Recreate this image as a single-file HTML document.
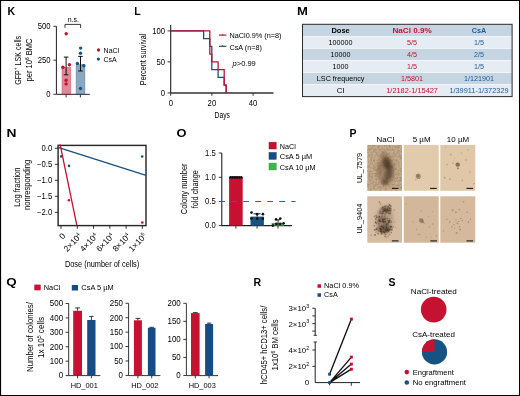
<!DOCTYPE html>
<html><head><meta charset="utf-8"><style>
html,body{margin:0;padding:0;background:#fff;}
svg{display:block;will-change:transform;font-family:"Liberation Sans", sans-serif;}
</style></head><body>
<svg width="520" height="396" viewBox="0 0 520 396">
<rect width="520" height="396" fill="#fff"/>
<text x="7.4" y="15.0" font-size="10.5" font-weight="bold" fill="#000">K</text>
<text x="134.3" y="14.9" font-size="10.5" font-weight="bold" fill="#000">L</text>
<text x="297.0" y="15.0" font-size="10.5" font-weight="bold" fill="#000" textLength="10.9" lengthAdjust="spacingAndGlyphs">M</text>
<text x="6.5" y="136.8" font-size="10.5" font-weight="bold" fill="#000" textLength="10.0" lengthAdjust="spacingAndGlyphs">N</text>
<text x="176.6" y="137.0" font-size="10.5" font-weight="bold" fill="#000" textLength="10.0" lengthAdjust="spacingAndGlyphs">O</text>
<text x="349.5" y="136.9" font-size="10.5" font-weight="bold" fill="#000">P</text>
<text x="6.2" y="285.9" font-size="10.5" font-weight="bold" fill="#000" textLength="10.4" lengthAdjust="spacingAndGlyphs">Q</text>
<text x="253.4" y="285.8" font-size="10.5" font-weight="bold" fill="#000">R</text>
<text x="388.4" y="285.8" font-size="10.5" font-weight="bold" fill="#000">S</text>
<path d="M56.4,26.3 V94.3 H89.8" stroke="#231f20" stroke-width="1.0" fill="none" />
<path d="M53.4,26.3 H56.4" stroke="#231f20" stroke-width="0.9" fill="none" />
<path d="M53.4,60.2 H56.4" stroke="#231f20" stroke-width="0.9" fill="none" />
<path d="M53.4,94.3 H56.4" stroke="#231f20" stroke-width="0.9" fill="none" />
<path d="M66.1,94.3 V97.4 M80.4,94.3 V97.4" stroke="#231f20" stroke-width="0.9" fill="none" />
<text x="50.6" y="29.1" font-size="8.3" text-anchor="end" transform="matrix(0.93 0 0 1 3.542 0)">500</text>
<text x="50.6" y="63.0" font-size="8.3" text-anchor="end" transform="matrix(0.93 0 0 1 3.542 0)">250</text>
<text x="50.6" y="96.9" font-size="8.3" text-anchor="end" transform="matrix(0.93 0 0 1 3.542 0)">0</text>
<rect x="61.9" y="67.2" width="9.0" height="27.1" fill="rgba(196,18,48,0.5)" stroke="rgba(196,18,48,0.35)" stroke-width="0.6"/>
<rect x="76.0" y="64.3" width="9.0" height="30.0" fill="rgba(22,82,130,0.5)" stroke="rgba(22,82,130,0.35)" stroke-width="0.6"/>
<path d="M66.1,57.1 V74.8 M63.8,57.1 H68.4 M63.8,74.8 H68.4" stroke="#111" stroke-width="1.0" fill="none" />
<path d="M80.5,56.4 V71.0 M78.2,56.4 H82.8 M78.2,71.0 H82.8" stroke="#111" stroke-width="1.0" fill="none" />
<circle cx="66.2" cy="33.7" r="1.7" fill="#c41230"/>
<circle cx="62.9" cy="67.3" r="1.7" fill="#c41230"/>
<circle cx="69.4" cy="64.7" r="1.7" fill="#c41230"/>
<circle cx="66.1" cy="80.2" r="1.7" fill="#c41230"/>
<circle cx="66.1" cy="83.9" r="1.7" fill="#c41230"/>
<circle cx="80.6" cy="48.1" r="1.7" fill="#165282"/>
<circle cx="80.5" cy="53.3" r="1.7" fill="#165282"/>
<circle cx="77.4" cy="63.5" r="1.7" fill="#165282"/>
<circle cx="83.8" cy="65.8" r="1.7" fill="#165282"/>
<circle cx="80.5" cy="88.5" r="1.7" fill="#165282"/>
<path d="M65,27.9 V24.4 H80.6 V27.9" stroke="#231f20" stroke-width="0.9" fill="none" />
<text x="73.3" y="21.8" font-size="7" text-anchor="middle">n.s.</text>
<circle cx="98.5" cy="50.0" r="1.65" fill="#c41230"/>
<circle cx="98.4" cy="59.1" r="1.65" fill="#165282"/>
<text x="103.6" y="52.6" font-size="7">NaCl</text>
<text x="103.4" y="61.6" font-size="7">CsA</text>
<text x="20.6" y="60.3" font-size="9.1" text-anchor="middle" textLength="48.8" lengthAdjust="spacingAndGlyphs" transform="rotate(-90 20.6 60.3)">GFP<tspan font-size="6.2" dy="-3.2">+</tspan><tspan dy="3.2"> LSK cells</tspan></text>
<text x="31.6" y="60.0" font-size="8.6" text-anchor="middle" textLength="43" lengthAdjust="spacingAndGlyphs" transform="rotate(-90 31.6 60.0)">per 10<tspan font-size="5.5" dy="-3">6</tspan><tspan dy="3"> BMC</tspan></text>
<path d="M170.7,25 V92.9" stroke="#231f20" stroke-width="1.1" fill="none" />
<path d="M170.7,92.9 H273.5" stroke="#333" stroke-width="1.5" fill="none" />
<path d="M167.6,30.9 H170.7" stroke="#231f20" stroke-width="0.9" fill="none" />
<path d="M167.6,61.9 H170.7" stroke="#231f20" stroke-width="0.9" fill="none" />
<path d="M167.6,92.9 H170.7" stroke="#231f20" stroke-width="0.9" fill="none" />
<path d="M170.7,92.9 V95.8" stroke="#231f20" stroke-width="0.9" fill="none" />
<path d="M211.9,92.9 V95.8" stroke="#231f20" stroke-width="0.9" fill="none" />
<path d="M253.1,92.9 V95.8" stroke="#231f20" stroke-width="0.9" fill="none" />
<text x="165.0" y="33.7" font-size="8.3" text-anchor="end" transform="matrix(0.93 0 0 1 11.550 0)">100</text>
<text x="165.0" y="64.9" font-size="8.3" text-anchor="end" transform="matrix(0.93 0 0 1 11.550 0)">50</text>
<text x="165.0" y="96.1" font-size="8.3" text-anchor="end" transform="matrix(0.93 0 0 1 11.550 0)">0</text>
<text x="170.8" y="105.6" font-size="8.3" text-anchor="middle" transform="matrix(0.93 0 0 1 11.956 0)">0</text>
<text x="211.9" y="105.6" font-size="8.3" text-anchor="middle" transform="matrix(0.93 0 0 1 14.833 0)">20</text>
<text x="253.1" y="105.6" font-size="8.3" text-anchor="middle" transform="matrix(0.93 0 0 1 17.717 0)">40</text>
<text x="222.3" y="118.0" font-size="9.3" text-anchor="middle" textLength="15.4" lengthAdjust="spacingAndGlyphs">Days</text>
<text x="145.9" y="59.4" font-size="9.0" text-anchor="middle" textLength="51.5" lengthAdjust="spacingAndGlyphs" transform="rotate(-90 145.9 59.4)">Percent survival</text>
<path d="M170.7,30.9 H203.6 V38.65 H209.8 V46.4 H211.8 V69.65 H218.1 V77.4 H224.2 V85.15 H226.2 V92.9" stroke="#165282" stroke-width="1.3" fill="none" stroke-linejoin="miter"/>
<path d="M170.7,30.9 H209.8 V54.15 H211.8 V61.9 H218.1 V69.65 H224.2 V85.15 H226.2 V92.9" stroke="#c41230" stroke-width="1.3" fill="none" stroke-linejoin="miter"/>
<path d="M219,35.1 H226.4" stroke="#c41230" stroke-width="1.2" fill="none" />
<path d="M219,46.3 H226.4" stroke="#165282" stroke-width="1.2" fill="none" />
<path d="M222.7,33.9 V35.1 M222.7,45.1 V46.3" stroke="#333" stroke-width="0.8" fill="none" />
<text x="229.5" y="38.1" font-size="7.4" textLength="52" lengthAdjust="spacingAndGlyphs">NaCl0.9% (n=8)</text>
<text x="229.5" y="49.9" font-size="7.4" textLength="32.4" lengthAdjust="spacingAndGlyphs">CsA (n=8)</text>
<text x="232.6" y="66.0" font-size="7.4" textLength="23.2" lengthAdjust="spacingAndGlyphs"><tspan font-style="italic">p</tspan>&gt;0.99</text>
<rect x="302.5" y="24.3" width="209.6" height="12.3" fill="#c6d5e2" />
<rect x="302.5" y="36.6" width="209.6" height="11.799999999999997" fill="#e5ecf3" />
<rect x="302.5" y="48.4" width="209.6" height="12.0" fill="#c6d5e2" />
<rect x="302.5" y="60.4" width="209.6" height="12.100000000000001" fill="#e5ecf3" />
<rect x="302.5" y="72.5" width="209.6" height="12.099999999999994" fill="#c6d5e2" />
<rect x="302.5" y="84.6" width="209.6" height="12.0" fill="#e5ecf3" />
<path d="M302.5,36.6 H512.1" stroke="#f6f8fa" stroke-width="0.8" fill="none" />
<path d="M302.5,48.4 H512.1" stroke="#f6f8fa" stroke-width="0.8" fill="none" />
<path d="M302.5,60.4 H512.1" stroke="#f6f8fa" stroke-width="0.8" fill="none" />
<path d="M302.5,72.5 H512.1" stroke="#f6f8fa" stroke-width="0.8" fill="none" />
<path d="M302.5,84.6 H512.1" stroke="#f6f8fa" stroke-width="0.8" fill="none" />
<rect x="302.5" y="24.3" width="209.6" height="72.3" fill="none" stroke="#2b2b2b" stroke-width="1"/>
<text x="340.6" y="33.0" font-size="7.8" text-anchor="middle" font-weight="bold" textLength="18.3" lengthAdjust="spacingAndGlyphs">Dose</text>
<text x="412.1" y="33.0" font-size="7.8" text-anchor="middle" font-weight="bold" fill="#c41230" textLength="39.3" lengthAdjust="spacingAndGlyphs">NaCl 0.9%</text>
<text x="479.0" y="33.0" font-size="7.8" text-anchor="middle" font-weight="bold" fill="#1d5a96" textLength="14.5" lengthAdjust="spacingAndGlyphs">CsA</text>
<text x="340.6" y="44.7" font-size="7.9" text-anchor="middle" transform="matrix(0.91 0 0 1 30.654 0)">100000</text>
<text x="412.1" y="44.7" font-size="7.9" text-anchor="middle" fill="#c41230" transform="matrix(0.91 0 0 1 37.089 0)">5/5</text>
<text x="479.0" y="44.7" font-size="7.9" text-anchor="middle" fill="#1d5a96" transform="matrix(0.91 0 0 1 43.110 0)">1/5</text>
<text x="340.6" y="56.75" font-size="7.9" text-anchor="middle" transform="matrix(0.91 0 0 1 30.654 0)">10000</text>
<text x="412.1" y="56.75" font-size="7.9" text-anchor="middle" fill="#c41230" transform="matrix(0.91 0 0 1 37.089 0)">4/5</text>
<text x="479.0" y="56.75" font-size="7.9" text-anchor="middle" fill="#1d5a96" transform="matrix(0.91 0 0 1 43.110 0)">2/5</text>
<text x="340.6" y="68.8" font-size="7.9" text-anchor="middle" transform="matrix(0.91 0 0 1 30.654 0)">1000</text>
<text x="412.1" y="68.8" font-size="7.9" text-anchor="middle" fill="#c41230" transform="matrix(0.91 0 0 1 37.089 0)">1/5</text>
<text x="479.0" y="68.8" font-size="7.9" text-anchor="middle" fill="#1d5a96" transform="matrix(0.91 0 0 1 43.110 0)">1/5</text>
<text x="340.6" y="80.85" font-size="7.9" text-anchor="middle" transform="matrix(0.91 0 0 1 30.654 0)">LSC frequency</text>
<text x="412.1" y="80.85" font-size="7.9" text-anchor="middle" fill="#c41230" transform="matrix(0.91 0 0 1 37.089 0)">1/5801</text>
<text x="479.0" y="80.85" font-size="7.9" text-anchor="middle" fill="#1d5a96" transform="matrix(0.91 0 0 1 43.110 0)">1/121901</text>
<text x="340.6" y="92.9" font-size="7.9" text-anchor="middle">CI</text>
<text x="412.1" y="92.9" font-size="7.9" text-anchor="middle" fill="#c41230" textLength="51.7" lengthAdjust="spacingAndGlyphs">1/2182-1/15427</text>
<text x="479.0" y="92.9" font-size="7.9" text-anchor="middle" fill="#1d5a96" textLength="59.2" lengthAdjust="spacingAndGlyphs">1/39911-1/372329</text>
<rect x="58.1" y="145.4" width="87.9" height="80.2" fill="none" stroke="#2a2a2a" stroke-width="1.45"/>
<path d="M54.8,148.3 H58.1" stroke="#231f20" stroke-width="0.9" fill="none" />
<path d="M54.8,164.3 H58.1" stroke="#231f20" stroke-width="0.9" fill="none" />
<path d="M54.8,180.3 H58.1" stroke="#231f20" stroke-width="0.9" fill="none" />
<path d="M54.8,196.3 H58.1" stroke="#231f20" stroke-width="0.9" fill="none" />
<path d="M54.8,212.4 H58.1" stroke="#231f20" stroke-width="0.9" fill="none" />
<text x="52.3" y="151.2" font-size="8.3" text-anchor="end" transform="matrix(0.93 0 0 1 3.661 0)">0.0</text>
<text x="52.3" y="167.2" font-size="8.3" text-anchor="end" transform="matrix(0.93 0 0 1 3.661 0)">−0.5</text>
<text x="52.3" y="183.2" font-size="8.3" text-anchor="end" transform="matrix(0.93 0 0 1 3.661 0)">−1.0</text>
<text x="52.3" y="199.2" font-size="8.3" text-anchor="end" transform="matrix(0.93 0 0 1 3.661 0)">−1.5</text>
<text x="52.3" y="215.3" font-size="8.3" text-anchor="end" transform="matrix(0.93 0 0 1 3.661 0)">−2.0</text>
<path d="M61.0,225.7 V228.8" stroke="#231f20" stroke-width="0.9" fill="none" />
<path d="M77.3,225.7 V228.8" stroke="#231f20" stroke-width="0.9" fill="none" />
<path d="M93.5,225.7 V228.8" stroke="#231f20" stroke-width="0.9" fill="none" />
<path d="M109.8,225.7 V228.8" stroke="#231f20" stroke-width="0.9" fill="none" />
<path d="M126.1,225.7 V228.8" stroke="#231f20" stroke-width="0.9" fill="none" />
<path d="M142.3,225.7 V228.8" stroke="#231f20" stroke-width="0.9" fill="none" />
<text x="65.9" y="236.4" font-size="8.4" text-anchor="end" transform="rotate(-47 65.9 236.4)">0</text>
<text x="82.2" y="236.4" font-size="8.4" text-anchor="end" transform="rotate(-47 82.2 236.4)">2×10<tspan font-size="5.2" dy="-3">4</tspan></text>
<text x="98.4" y="236.4" font-size="8.4" text-anchor="end" transform="rotate(-47 98.4 236.4)">4×10<tspan font-size="5.2" dy="-3">4</tspan></text>
<text x="114.7" y="236.4" font-size="8.4" text-anchor="end" transform="rotate(-47 114.7 236.4)">6×10<tspan font-size="5.2" dy="-3">4</tspan></text>
<text x="131.0" y="236.4" font-size="8.4" text-anchor="end" transform="rotate(-47 131.0 236.4)">8×10<tspan font-size="5.2" dy="-3">4</tspan></text>
<text x="147.2" y="236.4" font-size="8.4" text-anchor="end" transform="rotate(-47 147.2 236.4)">1×10<tspan font-size="5.2" dy="-3">5</tspan></text>
<text x="64.9" y="266.8" font-size="9.1" textLength="74.3" lengthAdjust="spacingAndGlyphs">Dose (number of cells)</text>
<text x="19.8" y="187.2" font-size="9.2" text-anchor="middle" textLength="39.3" lengthAdjust="spacingAndGlyphs" transform="rotate(-90 19.8 187.2)">Log fraction</text>
<text x="30.0" y="184.9" font-size="9.2" text-anchor="middle" textLength="50.3" lengthAdjust="spacingAndGlyphs" transform="rotate(-90 30.0 184.9)">nonresponding</text>
<circle cx="61.3" cy="156.4" r="1.3" fill="#165282"/>
<circle cx="69.0" cy="165.9" r="1.3" fill="#165282"/>
<circle cx="142.2" cy="156.5" r="1.3" fill="#165282"/>
<circle cx="68.9" cy="200.2" r="1.3" fill="#c41230"/>
<circle cx="142.3" cy="222.5" r="1.3" fill="#c41230"/>
<path d="M57.3,147.1 L146,175.4" stroke="#165282" stroke-width="1.3" fill="none" />
<path d="M60.1,144.3 L76.8,225.2" stroke="#c41230" stroke-width="1.3" fill="none" />
<path d="M221.8,153 V225.6 H291.9" stroke="#231f20" stroke-width="1.1" fill="none" />
<path d="M218.8,153.0 H221.8" stroke="#231f20" stroke-width="0.9" fill="none" />
<path d="M218.8,177.3 H221.8" stroke="#231f20" stroke-width="0.9" fill="none" />
<path d="M218.8,201.5 H221.8" stroke="#231f20" stroke-width="0.9" fill="none" />
<path d="M218.8,225.6 H221.8" stroke="#231f20" stroke-width="0.9" fill="none" />
<text x="215.7" y="155.9" font-size="8.3" text-anchor="end" transform="matrix(0.93 0 0 1 15.099 0)">1.5</text>
<text x="215.7" y="180.2" font-size="8.3" text-anchor="end" transform="matrix(0.93 0 0 1 15.099 0)">1.0</text>
<text x="215.7" y="204.4" font-size="8.3" text-anchor="end" transform="matrix(0.93 0 0 1 15.099 0)">0.5</text>
<text x="215.7" y="228.3" font-size="8.3" text-anchor="end" transform="matrix(0.93 0 0 1 15.099 0)">0.0</text>
<path d="M235.9,225.6 V228.6" stroke="#231f20" stroke-width="0.9" fill="none" />
<path d="M257.1,225.6 V228.6" stroke="#231f20" stroke-width="0.9" fill="none" />
<path d="M278.0,225.6 V228.6" stroke="#231f20" stroke-width="0.9" fill="none" />
<rect x="229.1" y="177.4" width="13.6" height="48.2" fill="#c41230" />
<rect x="250.5" y="216.6" width="13.4" height="9.0" fill="#165282" />
<rect x="271.6" y="223.0" width="12.6" height="2.6" fill="#3db54a" />
<path d="M219.3,201.5 H295.5" stroke="#2a66a6" stroke-width="1.2" fill="none" stroke-dasharray="5.8 6.2"/>
<circle cx="230.4" cy="177.4" r="1.3" fill="#111"/>
<circle cx="232.23" cy="177.4" r="1.3" fill="#111"/>
<circle cx="234.06" cy="177.4" r="1.3" fill="#111"/>
<circle cx="235.89" cy="177.4" r="1.3" fill="#111"/>
<circle cx="237.72" cy="177.4" r="1.3" fill="#111"/>
<circle cx="239.55" cy="177.4" r="1.3" fill="#111"/>
<circle cx="241.38" cy="177.4" r="1.3" fill="#111"/>
<path d="M257.1,213.8 V216.6 M253.5,213.8 H260.7" stroke="#111" stroke-width="0.9" fill="none" />
<circle cx="251.5" cy="212.6" r="1.35" fill="#111"/>
<circle cx="257.1" cy="214.2" r="1.35" fill="#111"/>
<circle cx="262.9" cy="214.2" r="1.35" fill="#111"/>
<circle cx="251.5" cy="218.5" r="1.35" fill="#111"/>
<circle cx="257.1" cy="218.7" r="1.35" fill="#111"/>
<circle cx="262.8" cy="218.7" r="1.35" fill="#111"/>
<path d="M278.1,219.8 V225 M276.2,219.8 H280" stroke="#111" stroke-width="0.9" fill="none" />
<circle cx="276.0" cy="219.4" r="1.3" fill="#111"/>
<circle cx="280.3" cy="218.6" r="1.3" fill="#111"/>
<circle cx="272.9" cy="225.6" r="1.3" fill="#111"/>
<circle cx="276.3" cy="223.9" r="1.3" fill="#111"/>
<circle cx="280.3" cy="223.9" r="1.3" fill="#111"/>
<circle cx="283.6" cy="223.3" r="1.3" fill="#111"/>
<rect x="269.0" y="142.2" width="7.2" height="6.8" fill="#c41230" stroke="#a80e28" stroke-width="0.5"/>
<rect x="269.0" y="152.5" width="7.2" height="6.8" fill="#174b86" stroke="#0f3a6a" stroke-width="0.5"/>
<rect x="269.0" y="163.1" width="7.2" height="6.8" fill="#3db54a" stroke="#2a9a3a" stroke-width="0.5"/>
<text x="279.8" y="148.6" font-size="7.2" textLength="16.0" lengthAdjust="spacingAndGlyphs">NaCl</text>
<text x="279.8" y="159.1" font-size="7.2" textLength="32.3" lengthAdjust="spacingAndGlyphs">CsA 5 µM</text>
<text x="279.8" y="169.7" font-size="7.2" textLength="35.8" lengthAdjust="spacingAndGlyphs">CsA 10 µM</text>
<text x="187.3" y="188.8" font-size="9.2" text-anchor="middle" textLength="50.8" lengthAdjust="spacingAndGlyphs" transform="rotate(-90 187.3 188.8)">Colony number</text>
<text x="197.9" y="189.2" font-size="9.2" text-anchor="middle" textLength="38.3" lengthAdjust="spacingAndGlyphs" transform="rotate(-90 197.9 189.2)">fold change</text>
<text x="385.4" y="141.5" font-size="7.5" text-anchor="middle" textLength="17.6" lengthAdjust="spacingAndGlyphs">NaCl</text>
<text x="421.6" y="141.5" font-size="7.5" text-anchor="middle" textLength="17.9" lengthAdjust="spacingAndGlyphs">5 µM</text>
<text x="458.0" y="141.5" font-size="7.5" text-anchor="middle" textLength="22.3" lengthAdjust="spacingAndGlyphs">10 µM</text>
<text x="362.3" y="167.9" font-size="6.8" text-anchor="middle" textLength="30.2" lengthAdjust="spacingAndGlyphs" transform="rotate(-90 362.3 167.9)">UL_7579</text>
<text x="362.3" y="218.6" font-size="6.8" text-anchor="middle" textLength="30.0" lengthAdjust="spacingAndGlyphs" transform="rotate(-90 362.3 218.6)">UL_9404</text>
<defs><filter id="bA" x="-50%" y="-50%" width="200%" height="200%"><feGaussianBlur stdDeviation="1.8"/></filter><filter id="bB" x="-50%" y="-50%" width="200%" height="200%"><feGaussianBlur stdDeviation="0.9"/></filter><filter id="bC" x="-50%" y="-50%" width="200%" height="200%"><feGaussianBlur stdDeviation="0.45"/></filter><filter id="bD" x="-20%" y="-20%" width="140%" height="140%"><feGaussianBlur stdDeviation="0.6"/></filter><filter id="tex" x="0" y="0" width="100%" height="100%"><feTurbulence type="fractalNoise" baseFrequency="0.45" numOctaves="3" seed="5" result="t"/><feColorMatrix in="t" type="matrix" values="0 0 0 0 0.32  0 0 0 0 0.26  0 0 0 0 0.19  4.0 0 0 0 -1.75"/></filter><filter id="tex2" x="0" y="0" width="100%" height="100%"><feTurbulence type="fractalNoise" baseFrequency="0.45" numOctaves="2" seed="11" result="t"/><feColorMatrix in="t" type="matrix" values="0 0 0 0 1  0 0 0 0 0.93  0 0 0 0 0.82  0 -2.2 0 0 1.0"/></filter><clipPath id="cp1"><rect x="367.3" y="144.9" width="34.7" height="45.9"/></clipPath><clipPath id="cp2"><rect x="367.3" y="196.3" width="34.7" height="46.4"/></clipPath></defs>
<rect x="367.3" y="144.9" width="34.7" height="45.9" fill="#c5a783" />
<rect x="403.8" y="144.9" width="34.9" height="45.9" fill="#e1cbac" />
<rect x="440.3" y="144.9" width="35.0" height="45.9" fill="#dfc7a7" />
<rect x="367.3" y="196.3" width="34.7" height="46.4" fill="#d4bba2" />
<rect x="403.8" y="196.3" width="34.9" height="46.4" fill="#d2b79b" />
<rect x="440.3" y="196.3" width="35.0" height="46.4" fill="#d4b99c" />
<g clip-path="url(#cp1)"><rect x="367.3" y="144.9" width="34.7" height="45.9" filter="url(#tex2)" opacity="0.3"/></g>
<g clip-path="url(#cp1)"><rect x="367.3" y="144.9" width="34.7" height="45.9" filter="url(#tex)" opacity="0.7"/></g>
<g clip-path="url(#cp1)"><g filter="url(#bA)"><ellipse cx="386" cy="170" rx="9" ry="15" fill="#7a5e45" opacity="0.45"/><ellipse cx="386.5" cy="163" rx="4" ry="6" fill="#3e2c1b" opacity="0.7"/><ellipse cx="389.5" cy="168" rx="3.5" ry="5" fill="#3e2c1b" opacity="0.55"/><ellipse cx="388.5" cy="175" rx="4.2" ry="4.5" fill="#4a3726" opacity="0.6"/><ellipse cx="385" cy="182" rx="3.5" ry="3.5" fill="#4a3726" opacity="0.6"/><ellipse cx="379" cy="170" rx="3" ry="7" fill="#8a6e52" opacity="0.35"/><ellipse cx="384" cy="156" rx="3" ry="5" fill="#6e553e" opacity="0.4"/></g></g>
<g clip-path="url(#cp2)">
<g filter="url(#bA)"><ellipse cx="384.5" cy="220" rx="9" ry="14" fill="#8c7057" opacity="0.4"/><ellipse cx="386" cy="209.5" rx="4.5" ry="3.5" fill="#5a4535" opacity="0.5"/><ellipse cx="383" cy="219.5" rx="4.5" ry="3.5" fill="#5a4535" opacity="0.45"/><ellipse cx="384" cy="228.5" rx="7" ry="4.5" fill="#4e3a2b" opacity="0.6"/></g>
<g filter="url(#bD)">
<circle cx="385.1" cy="210.4" r="0.81" fill="#3e2e20" opacity="0.28"/>
<circle cx="382.8" cy="208.4" r="0.48" fill="#3e2e20" opacity="0.43"/>
<circle cx="389.5" cy="209.7" r="0.49" fill="#3e2e20" opacity="0.28"/>
<circle cx="380.3" cy="211.4" r="0.52" fill="#3e2e20" opacity="0.33"/>
<circle cx="380.2" cy="204.1" r="0.77" fill="#3e2e20" opacity="0.39"/>
<circle cx="387.0" cy="208.9" r="0.92" fill="#3e2e20" opacity="0.35"/>
<circle cx="387.0" cy="210.1" r="0.62" fill="#3e2e20" opacity="0.54"/>
<circle cx="387.9" cy="212.4" r="0.80" fill="#3e2e20" opacity="0.38"/>
<circle cx="384.8" cy="208.7" r="0.48" fill="#3e2e20" opacity="0.32"/>
<circle cx="384.5" cy="206.3" r="0.62" fill="#3e2e20" opacity="0.45"/>
<circle cx="383.3" cy="209.7" r="0.89" fill="#3e2e20" opacity="0.49"/>
<circle cx="386.2" cy="212.7" r="0.74" fill="#3e2e20" opacity="0.56"/>
<circle cx="385.6" cy="206.7" r="0.99" fill="#3e2e20" opacity="0.29"/>
<circle cx="381.0" cy="211.3" r="0.53" fill="#3e2e20" opacity="0.42"/>
<circle cx="390.9" cy="210.0" r="0.87" fill="#3e2e20" opacity="0.45"/>
<circle cx="388.1" cy="207.3" r="0.83" fill="#3e2e20" opacity="0.46"/>
<circle cx="382.7" cy="207.5" r="0.91" fill="#3e2e20" opacity="0.58"/>
<circle cx="381.0" cy="209.7" r="0.48" fill="#3e2e20" opacity="0.50"/>
<circle cx="379.5" cy="201.9" r="0.90" fill="#3e2e20" opacity="0.35"/>
<circle cx="382.2" cy="211.7" r="0.46" fill="#3e2e20" opacity="0.41"/>
<circle cx="386.8" cy="210.2" r="0.48" fill="#3e2e20" opacity="0.52"/>
<circle cx="387.8" cy="210.5" r="0.67" fill="#3e2e20" opacity="0.55"/>
<circle cx="389.2" cy="210.5" r="0.75" fill="#3e2e20" opacity="0.56"/>
<circle cx="388.9" cy="203.9" r="0.60" fill="#3e2e20" opacity="0.40"/>
<circle cx="381.5" cy="213.5" r="0.98" fill="#3e2e20" opacity="0.30"/>
<circle cx="387.1" cy="210.8" r="0.58" fill="#3e2e20" opacity="0.42"/>
<circle cx="383.8" cy="207.8" r="0.45" fill="#3e2e20" opacity="0.40"/>
<circle cx="383.0" cy="211.7" r="0.97" fill="#3e2e20" opacity="0.49"/>
<circle cx="381.3" cy="208.6" r="0.82" fill="#3e2e20" opacity="0.27"/>
<circle cx="390.8" cy="206.1" r="0.93" fill="#3e2e20" opacity="0.53"/>
<circle cx="383.3" cy="210.8" r="0.51" fill="#3e2e20" opacity="0.47"/>
<circle cx="387.2" cy="209.4" r="0.56" fill="#3e2e20" opacity="0.31"/>
<circle cx="385.4" cy="209.8" r="0.45" fill="#3e2e20" opacity="0.30"/>
<circle cx="388.6" cy="210.6" r="0.46" fill="#3e2e20" opacity="0.56"/>
<circle cx="384.5" cy="208.0" r="0.59" fill="#3e2e20" opacity="0.37"/>
<circle cx="384.9" cy="210.1" r="0.92" fill="#3e2e20" opacity="0.60"/>
<circle cx="382.2" cy="209.7" r="0.50" fill="#3e2e20" opacity="0.29"/>
<circle cx="384.5" cy="210.8" r="0.91" fill="#3e2e20" opacity="0.31"/>
<circle cx="394.3" cy="210.0" r="0.74" fill="#3e2e20" opacity="0.30"/>
<circle cx="385.2" cy="208.8" r="0.74" fill="#3e2e20" opacity="0.59"/>
<circle cx="389.4" cy="205.7" r="0.59" fill="#3e2e20" opacity="0.38"/>
<circle cx="388.9" cy="213.2" r="0.74" fill="#3e2e20" opacity="0.52"/>
<circle cx="384.8" cy="210.7" r="0.90" fill="#3e2e20" opacity="0.59"/>
<circle cx="389.7" cy="204.9" r="0.90" fill="#3e2e20" opacity="0.51"/>
<circle cx="386.6" cy="212.3" r="0.65" fill="#3e2e20" opacity="0.26"/>
<circle cx="388.7" cy="209.4" r="0.59" fill="#3e2e20" opacity="0.49"/>
<circle cx="389.6" cy="208.2" r="0.97" fill="#3e2e20" opacity="0.60"/>
<circle cx="389.1" cy="208.3" r="0.57" fill="#3e2e20" opacity="0.33"/>
<circle cx="386.8" cy="210.8" r="0.79" fill="#3e2e20" opacity="0.57"/>
<circle cx="388.1" cy="206.3" r="0.81" fill="#3e2e20" opacity="0.53"/>
<circle cx="390.3" cy="211.1" r="0.95" fill="#3e2e20" opacity="0.52"/>
<circle cx="386.0" cy="205.8" r="0.55" fill="#3e2e20" opacity="0.53"/>
<circle cx="383.0" cy="213.4" r="0.98" fill="#3e2e20" opacity="0.39"/>
<circle cx="379.3" cy="212.9" r="0.85" fill="#3e2e20" opacity="0.31"/>
<circle cx="387.4" cy="210.1" r="0.95" fill="#3e2e20" opacity="0.53"/>
<circle cx="389.9" cy="213.2" r="0.99" fill="#3e2e20" opacity="0.48"/>
<circle cx="383.5" cy="211.9" r="0.52" fill="#3e2e20" opacity="0.25"/>
<circle cx="390.8" cy="208.3" r="0.74" fill="#3e2e20" opacity="0.58"/>
<circle cx="379.7" cy="211.3" r="0.90" fill="#3e2e20" opacity="0.32"/>
<circle cx="386.0" cy="211.3" r="0.58" fill="#3e2e20" opacity="0.46"/>
<circle cx="382.8" cy="222.1" r="0.52" fill="#3e2e20" opacity="0.57"/>
<circle cx="380.4" cy="221.6" r="0.77" fill="#3e2e20" opacity="0.57"/>
<circle cx="375.5" cy="222.2" r="0.73" fill="#3e2e20" opacity="0.44"/>
<circle cx="382.3" cy="218.9" r="0.69" fill="#3e2e20" opacity="0.31"/>
<circle cx="389.8" cy="219.1" r="0.54" fill="#3e2e20" opacity="0.42"/>
<circle cx="382.2" cy="215.2" r="0.63" fill="#3e2e20" opacity="0.43"/>
<circle cx="376.7" cy="217.2" r="0.51" fill="#3e2e20" opacity="0.45"/>
<circle cx="383.0" cy="221.4" r="0.87" fill="#3e2e20" opacity="0.43"/>
<circle cx="377.1" cy="217.1" r="0.95" fill="#3e2e20" opacity="0.41"/>
<circle cx="379.6" cy="216.7" r="0.73" fill="#3e2e20" opacity="0.49"/>
<circle cx="378.5" cy="220.1" r="0.71" fill="#3e2e20" opacity="0.58"/>
<circle cx="380.6" cy="213.2" r="0.97" fill="#3e2e20" opacity="0.34"/>
<circle cx="374.5" cy="216.4" r="0.91" fill="#3e2e20" opacity="0.30"/>
<circle cx="386.0" cy="221.2" r="0.49" fill="#3e2e20" opacity="0.33"/>
<circle cx="388.1" cy="221.0" r="0.88" fill="#3e2e20" opacity="0.56"/>
<circle cx="386.4" cy="222.9" r="0.81" fill="#3e2e20" opacity="0.30"/>
<circle cx="390.4" cy="213.7" r="0.57" fill="#3e2e20" opacity="0.58"/>
<circle cx="379.5" cy="221.1" r="0.99" fill="#3e2e20" opacity="0.54"/>
<circle cx="385.1" cy="221.7" r="0.73" fill="#3e2e20" opacity="0.37"/>
<circle cx="384.1" cy="221.5" r="0.85" fill="#3e2e20" opacity="0.26"/>
<circle cx="379.1" cy="217.9" r="0.46" fill="#3e2e20" opacity="0.37"/>
<circle cx="379.8" cy="216.5" r="0.49" fill="#3e2e20" opacity="0.59"/>
<circle cx="385.4" cy="211.2" r="0.51" fill="#3e2e20" opacity="0.34"/>
<circle cx="389.4" cy="220.3" r="0.60" fill="#3e2e20" opacity="0.30"/>
<circle cx="375.6" cy="222.1" r="0.90" fill="#3e2e20" opacity="0.34"/>
<circle cx="388.0" cy="224.4" r="0.76" fill="#3e2e20" opacity="0.50"/>
<circle cx="384.1" cy="219.6" r="0.83" fill="#3e2e20" opacity="0.40"/>
<circle cx="391.1" cy="222.1" r="0.80" fill="#3e2e20" opacity="0.53"/>
<circle cx="389.5" cy="222.0" r="0.49" fill="#3e2e20" opacity="0.55"/>
<circle cx="379.7" cy="219.8" r="0.75" fill="#3e2e20" opacity="0.57"/>
<circle cx="382.8" cy="220.6" r="0.74" fill="#3e2e20" opacity="0.33"/>
<circle cx="384.7" cy="220.1" r="0.48" fill="#3e2e20" opacity="0.32"/>
<circle cx="381.8" cy="221.4" r="0.87" fill="#3e2e20" opacity="0.35"/>
<circle cx="380.6" cy="219.0" r="0.64" fill="#3e2e20" opacity="0.26"/>
<circle cx="383.0" cy="219.5" r="0.85" fill="#3e2e20" opacity="0.44"/>
<circle cx="384.6" cy="222.2" r="0.96" fill="#3e2e20" opacity="0.29"/>
<circle cx="384.7" cy="216.1" r="0.72" fill="#3e2e20" opacity="0.54"/>
<circle cx="379.5" cy="221.2" r="0.83" fill="#3e2e20" opacity="0.59"/>
<circle cx="379.0" cy="223.7" r="0.84" fill="#3e2e20" opacity="0.47"/>
<circle cx="380.1" cy="220.6" r="0.48" fill="#3e2e20" opacity="0.30"/>
<circle cx="388.6" cy="221.1" r="0.59" fill="#3e2e20" opacity="0.31"/>
<circle cx="389.3" cy="221.9" r="0.93" fill="#3e2e20" opacity="0.48"/>
<circle cx="382.4" cy="221.2" r="0.61" fill="#3e2e20" opacity="0.41"/>
<circle cx="385.3" cy="221.7" r="0.59" fill="#3e2e20" opacity="0.59"/>
<circle cx="387.7" cy="218.4" r="0.58" fill="#3e2e20" opacity="0.59"/>
<circle cx="381.7" cy="221.6" r="0.45" fill="#3e2e20" opacity="0.38"/>
<circle cx="378.6" cy="219.6" r="0.56" fill="#3e2e20" opacity="0.43"/>
<circle cx="386.0" cy="219.1" r="0.50" fill="#3e2e20" opacity="0.39"/>
<circle cx="383.8" cy="219.2" r="0.62" fill="#3e2e20" opacity="0.33"/>
<circle cx="379.0" cy="217.1" r="0.86" fill="#3e2e20" opacity="0.48"/>
<circle cx="381.3" cy="213.0" r="0.66" fill="#3e2e20" opacity="0.36"/>
<circle cx="385.2" cy="218.8" r="0.85" fill="#3e2e20" opacity="0.48"/>
<circle cx="389.9" cy="220.5" r="0.94" fill="#3e2e20" opacity="0.47"/>
<circle cx="382.3" cy="213.5" r="0.53" fill="#3e2e20" opacity="0.43"/>
<circle cx="375.8" cy="218.8" r="0.89" fill="#3e2e20" opacity="0.54"/>
<circle cx="376.1" cy="215.8" r="0.83" fill="#3e2e20" opacity="0.49"/>
<circle cx="383.1" cy="219.7" r="0.52" fill="#3e2e20" opacity="0.38"/>
<circle cx="388.7" cy="222.5" r="0.76" fill="#3e2e20" opacity="0.47"/>
<circle cx="379.0" cy="215.8" r="0.72" fill="#3e2e20" opacity="0.25"/>
<circle cx="384.9" cy="214.2" r="0.73" fill="#3e2e20" opacity="0.44"/>
<circle cx="382.8" cy="227.7" r="0.86" fill="#3e2e20" opacity="0.34"/>
<circle cx="387.3" cy="230.0" r="0.85" fill="#3e2e20" opacity="0.32"/>
<circle cx="382.9" cy="219.5" r="0.72" fill="#3e2e20" opacity="0.38"/>
<circle cx="376.3" cy="229.5" r="0.87" fill="#3e2e20" opacity="0.47"/>
<circle cx="382.5" cy="227.7" r="0.53" fill="#3e2e20" opacity="0.34"/>
<circle cx="383.6" cy="225.9" r="0.76" fill="#3e2e20" opacity="0.25"/>
<circle cx="387.5" cy="229.8" r="0.82" fill="#3e2e20" opacity="0.49"/>
<circle cx="381.9" cy="226.3" r="0.73" fill="#3e2e20" opacity="0.41"/>
<circle cx="381.3" cy="229.2" r="0.94" fill="#3e2e20" opacity="0.32"/>
<circle cx="395.4" cy="227.7" r="0.46" fill="#3e2e20" opacity="0.41"/>
<circle cx="389.4" cy="220.7" r="0.70" fill="#3e2e20" opacity="0.34"/>
<circle cx="386.8" cy="236.7" r="0.57" fill="#3e2e20" opacity="0.45"/>
<circle cx="387.6" cy="232.0" r="0.97" fill="#3e2e20" opacity="0.30"/>
<circle cx="386.3" cy="225.1" r="0.94" fill="#3e2e20" opacity="0.50"/>
<circle cx="385.0" cy="236.0" r="0.72" fill="#3e2e20" opacity="0.26"/>
<circle cx="389.6" cy="228.9" r="0.70" fill="#3e2e20" opacity="0.36"/>
<circle cx="386.7" cy="231.2" r="0.62" fill="#3e2e20" opacity="0.54"/>
<circle cx="392.1" cy="228.9" r="0.91" fill="#3e2e20" opacity="0.29"/>
<circle cx="390.9" cy="226.4" r="0.95" fill="#3e2e20" opacity="0.35"/>
<circle cx="380.3" cy="231.2" r="1.00" fill="#3e2e20" opacity="0.46"/>
<circle cx="380.4" cy="231.6" r="0.60" fill="#3e2e20" opacity="0.27"/>
<circle cx="391.4" cy="232.6" r="0.61" fill="#3e2e20" opacity="0.58"/>
<circle cx="383.8" cy="231.5" r="0.73" fill="#3e2e20" opacity="0.32"/>
<circle cx="375.1" cy="234.9" r="0.94" fill="#3e2e20" opacity="0.53"/>
<circle cx="376.3" cy="223.3" r="0.97" fill="#3e2e20" opacity="0.44"/>
<circle cx="383.5" cy="227.7" r="0.85" fill="#3e2e20" opacity="0.41"/>
<circle cx="383.9" cy="223.9" r="0.61" fill="#3e2e20" opacity="0.27"/>
<circle cx="386.1" cy="228.0" r="0.71" fill="#3e2e20" opacity="0.37"/>
<circle cx="381.4" cy="234.1" r="0.99" fill="#3e2e20" opacity="0.34"/>
<circle cx="381.4" cy="226.4" r="0.76" fill="#3e2e20" opacity="0.39"/>
<circle cx="385.3" cy="230.6" r="0.56" fill="#3e2e20" opacity="0.57"/>
<circle cx="380.3" cy="228.8" r="0.95" fill="#3e2e20" opacity="0.60"/>
<circle cx="381.2" cy="229.4" r="0.56" fill="#3e2e20" opacity="0.28"/>
<circle cx="382.6" cy="230.0" r="0.58" fill="#3e2e20" opacity="0.34"/>
<circle cx="374.3" cy="225.8" r="0.86" fill="#3e2e20" opacity="0.39"/>
<circle cx="378.6" cy="230.9" r="0.66" fill="#3e2e20" opacity="0.37"/>
<circle cx="387.5" cy="229.8" r="0.98" fill="#3e2e20" opacity="0.29"/>
<circle cx="376.8" cy="228.7" r="0.92" fill="#3e2e20" opacity="0.33"/>
<circle cx="383.3" cy="231.3" r="0.67" fill="#3e2e20" opacity="0.41"/>
<circle cx="393.1" cy="226.9" r="0.93" fill="#3e2e20" opacity="0.26"/>
<circle cx="391.5" cy="229.9" r="0.94" fill="#3e2e20" opacity="0.42"/>
<circle cx="383.7" cy="228.8" r="0.67" fill="#3e2e20" opacity="0.57"/>
<circle cx="388.3" cy="222.9" r="0.98" fill="#3e2e20" opacity="0.34"/>
<circle cx="386.0" cy="230.0" r="0.74" fill="#3e2e20" opacity="0.49"/>
<circle cx="391.3" cy="226.8" r="0.81" fill="#3e2e20" opacity="0.52"/>
<circle cx="377.7" cy="229.9" r="0.47" fill="#3e2e20" opacity="0.52"/>
<circle cx="385.0" cy="236.4" r="0.81" fill="#3e2e20" opacity="0.36"/>
<circle cx="386.4" cy="230.7" r="0.80" fill="#3e2e20" opacity="0.49"/>
<circle cx="385.3" cy="229.6" r="0.74" fill="#3e2e20" opacity="0.45"/>
<circle cx="381.1" cy="230.4" r="0.78" fill="#3e2e20" opacity="0.25"/>
<circle cx="382.0" cy="232.4" r="0.98" fill="#3e2e20" opacity="0.48"/>
<circle cx="388.0" cy="226.2" r="0.58" fill="#3e2e20" opacity="0.34"/>
<circle cx="391.4" cy="227.5" r="0.62" fill="#3e2e20" opacity="0.26"/>
<circle cx="376.3" cy="228.9" r="0.68" fill="#3e2e20" opacity="0.34"/>
<circle cx="378.2" cy="222.1" r="0.57" fill="#3e2e20" opacity="0.26"/>
<circle cx="381.1" cy="231.8" r="0.83" fill="#3e2e20" opacity="0.32"/>
<circle cx="386.2" cy="223.5" r="0.73" fill="#3e2e20" opacity="0.32"/>
<circle cx="388.0" cy="228.2" r="0.90" fill="#3e2e20" opacity="0.33"/>
<circle cx="385.3" cy="234.5" r="0.61" fill="#3e2e20" opacity="0.58"/>
<circle cx="380.6" cy="228.9" r="0.57" fill="#3e2e20" opacity="0.40"/>
<circle cx="377.6" cy="221.7" r="0.53" fill="#3e2e20" opacity="0.39"/>
<circle cx="386.9" cy="237.7" r="0.53" fill="#3e2e20" opacity="0.27"/>
<circle cx="388.4" cy="230.1" r="0.94" fill="#3e2e20" opacity="0.56"/>
<circle cx="381.9" cy="217.1" r="0.96" fill="#3e2e20" opacity="0.37"/>
<circle cx="388.4" cy="236.1" r="0.86" fill="#3e2e20" opacity="0.26"/>
<circle cx="381.3" cy="226.0" r="0.66" fill="#3e2e20" opacity="0.37"/>
<circle cx="384.0" cy="229.0" r="0.60" fill="#3e2e20" opacity="0.37"/>
<circle cx="386.3" cy="228.3" r="0.98" fill="#3e2e20" opacity="0.32"/>
<circle cx="378.0" cy="233.7" r="0.90" fill="#3e2e20" opacity="0.40"/>
<circle cx="389.2" cy="230.0" r="0.65" fill="#3e2e20" opacity="0.57"/>
<circle cx="385.5" cy="231.8" r="0.94" fill="#3e2e20" opacity="0.26"/>
<circle cx="376.1" cy="232.1" r="0.87" fill="#3e2e20" opacity="0.26"/>
<circle cx="385.6" cy="229.1" r="0.96" fill="#3e2e20" opacity="0.34"/>
<circle cx="383.6" cy="221.5" r="0.64" fill="#3e2e20" opacity="0.35"/>
<circle cx="390.5" cy="227.6" r="0.59" fill="#3e2e20" opacity="0.50"/>
<circle cx="382.2" cy="231.3" r="0.45" fill="#3e2e20" opacity="0.51"/>
<circle cx="389.9" cy="226.4" r="0.97" fill="#3e2e20" opacity="0.26"/>
<circle cx="384.4" cy="232.6" r="0.98" fill="#3e2e20" opacity="0.58"/>
<circle cx="380.9" cy="230.5" r="0.69" fill="#3e2e20" opacity="0.42"/>
<circle cx="386.7" cy="227.9" r="0.89" fill="#3e2e20" opacity="0.51"/>
<circle cx="387.6" cy="223.5" r="0.78" fill="#3e2e20" opacity="0.36"/>
<circle cx="381.8" cy="231.7" r="0.88" fill="#3e2e20" opacity="0.28"/>
<circle cx="386.5" cy="234.2" r="0.59" fill="#3e2e20" opacity="0.27"/>
<circle cx="390.0" cy="229.7" r="0.63" fill="#3e2e20" opacity="0.59"/>
<circle cx="394.8" cy="222.1" r="0.60" fill="#3e2e20" opacity="0.28"/>
<circle cx="388.6" cy="231.1" r="0.84" fill="#3e2e20" opacity="0.41"/>
<circle cx="384.3" cy="232.3" r="0.79" fill="#3e2e20" opacity="0.49"/>
<circle cx="383.7" cy="222.2" r="0.82" fill="#3e2e20" opacity="0.29"/>
<circle cx="386.1" cy="226.4" r="0.76" fill="#3e2e20" opacity="0.38"/>
<circle cx="383.6" cy="226.5" r="0.59" fill="#3e2e20" opacity="0.34"/>
<circle cx="389.7" cy="234.6" r="0.77" fill="#3e2e20" opacity="0.36"/>
<circle cx="371.4" cy="235.3" r="0.73" fill="#3e2e20" opacity="0.33"/>
<circle cx="386.4" cy="224.2" r="1.00" fill="#3e2e20" opacity="0.29"/>
<circle cx="374.7" cy="229.8" r="0.91" fill="#3e2e20" opacity="0.57"/>
<circle cx="387.8" cy="229.5" r="0.52" fill="#3e2e20" opacity="0.32"/>
</g></g>
<g filter="url(#bD)"><ellipse cx="418.3" cy="176.3" rx="2.6" ry="2.8" fill="#8e6e52" opacity="0.65"/><circle cx="417.8" cy="175.8" r="1.5" fill="#6e523c" opacity="0.45"/><circle cx="415.8" cy="179.8" r="0.8" fill="#8e6e52" opacity="0.4"/></g>
<g filter="url(#bD)"><circle cx="457.7" cy="164.6" r="2.2" fill="#6e513a" opacity="0.75"/><circle cx="457.9" cy="168.3" r="1" fill="#6e513a" opacity="0.5"/></g>
<g filter="url(#bC)">
<circle cx="450.8" cy="154.6" r="0.89" fill="#7a5c44" opacity="0.40"/>
<circle cx="446.9" cy="164.6" r="0.73" fill="#7a5c44" opacity="0.40"/>
<circle cx="453.0" cy="163.0" r="0.87" fill="#7a5c44" opacity="0.40"/>
<circle cx="458.2" cy="168.5" r="0.65" fill="#7a5c44" opacity="0.40"/>
<circle cx="450.0" cy="179.2" r="0.85" fill="#7a5c44" opacity="0.40"/>
<circle cx="462.3" cy="180.3" r="0.68" fill="#7a5c44" opacity="0.40"/>
<circle cx="461.5" cy="153.0" r="0.60" fill="#7a5c44" opacity="0.40"/>
<circle cx="473.8" cy="183.8" r="0.81" fill="#7a5c44" opacity="0.40"/>
<circle cx="444.6" cy="177.7" r="0.88" fill="#7a5c44" opacity="0.40"/>
<circle cx="446.0" cy="147.0" r="0.54" fill="#7a5c44" opacity="0.40"/>
<circle cx="466.0" cy="160.0" r="0.74" fill="#7a5c44" opacity="0.40"/>
<circle cx="470.0" cy="172.0" r="0.75" fill="#7a5c44" opacity="0.40"/>
<circle cx="455.0" cy="158.0" r="0.59" fill="#7a5c44" opacity="0.40"/>
<circle cx="468.0" cy="150.0" r="0.65" fill="#7a5c44" opacity="0.40"/>
</g>
<g filter="url(#bD)"><circle cx="421.3" cy="220.5" r="2.2" fill="#6e523c" opacity="0.6"/><circle cx="422.8" cy="222" r="1.2" fill="#6e523c" opacity="0.4"/></g>
<g filter="url(#bC)">
<circle cx="432.4" cy="211.5" r="0.56" fill="#7f6048" opacity="0.35"/>
<circle cx="428.2" cy="216.4" r="0.58" fill="#7f6048" opacity="0.35"/>
<circle cx="424.8" cy="223.3" r="0.60" fill="#7f6048" opacity="0.35"/>
<circle cx="429.6" cy="226.8" r="0.74" fill="#7f6048" opacity="0.35"/>
<circle cx="432.4" cy="224.0" r="0.76" fill="#7f6048" opacity="0.35"/>
<circle cx="426.2" cy="237.2" r="0.58" fill="#7f6048" opacity="0.35"/>
<circle cx="431.0" cy="237.2" r="0.50" fill="#7f6048" opacity="0.35"/>
<circle cx="417.9" cy="234.4" r="0.63" fill="#7f6048" opacity="0.35"/>
<circle cx="419.9" cy="234.4" r="0.77" fill="#7f6048" opacity="0.35"/>
<circle cx="406.0" cy="203.9" r="0.57" fill="#7f6048" opacity="0.35"/>
<circle cx="421.3" cy="210.9" r="0.62" fill="#7f6048" opacity="0.35"/>
<circle cx="413.0" cy="221.9" r="0.58" fill="#7f6048" opacity="0.35"/>
<circle cx="436.5" cy="235.8" r="0.82" fill="#7f6048" opacity="0.35"/>
<circle cx="416.5" cy="229.5" r="0.72" fill="#7f6048" opacity="0.35"/>
<circle cx="419.5" cy="218.5" r="0.53" fill="#7f6048" opacity="0.35"/>
<circle cx="423.5" cy="222.5" r="0.54" fill="#7f6048" opacity="0.35"/>
</g>
<g filter="url(#bC)">
<circle cx="463.6" cy="201.8" r="0.76" fill="#7a5a42" opacity="0.42"/>
<circle cx="460.8" cy="218.5" r="0.82" fill="#7a5a42" opacity="0.42"/>
<circle cx="457.3" cy="223.3" r="0.86" fill="#7a5a42" opacity="0.42"/>
<circle cx="453.9" cy="224.7" r="0.64" fill="#7a5a42" opacity="0.42"/>
<circle cx="462.2" cy="220.5" r="0.67" fill="#7a5a42" opacity="0.42"/>
<circle cx="468.4" cy="221.9" r="0.88" fill="#7a5a42" opacity="0.42"/>
<circle cx="470.5" cy="219.2" r="0.76" fill="#7a5a42" opacity="0.42"/>
<circle cx="455.9" cy="219.9" r="0.71" fill="#7a5a42" opacity="0.42"/>
<circle cx="451.8" cy="226.8" r="0.72" fill="#7a5a42" opacity="0.42"/>
<circle cx="456.6" cy="233.0" r="0.98" fill="#7a5a42" opacity="0.42"/>
<circle cx="459.4" cy="226.8" r="0.72" fill="#7a5a42" opacity="0.42"/>
<circle cx="449.7" cy="221.9" r="0.83" fill="#7a5a42" opacity="0.42"/>
<circle cx="446.9" cy="219.2" r="0.74" fill="#7a5a42" opacity="0.42"/>
<circle cx="467.0" cy="212.2" r="0.77" fill="#7a5a42" opacity="0.42"/>
<circle cx="455.9" cy="212.2" r="0.95" fill="#7a5a42" opacity="0.42"/>
<circle cx="452.5" cy="210.2" r="1.00" fill="#7a5a42" opacity="0.42"/>
<circle cx="459.4" cy="209.5" r="0.75" fill="#7a5a42" opacity="0.42"/>
<circle cx="443.5" cy="230.9" r="0.68" fill="#7a5a42" opacity="0.42"/>
<circle cx="460.1" cy="229.5" r="0.89" fill="#7a5a42" opacity="0.42"/>
<circle cx="458.5" cy="221.5" r="0.68" fill="#7a5a42" opacity="0.42"/>
<circle cx="454.5" cy="228.5" r="0.60" fill="#7a5a42" opacity="0.42"/>
</g>
<rect x="391.9" y="187.85" width="6.6" height="1.1" fill="#1a1a1a" />
<rect x="430.1" y="187.85" width="6.6" height="1.1" fill="#1a1a1a" />
<rect x="466.5" y="187.85" width="6.6" height="1.1" fill="#1a1a1a" />
<rect x="391.9" y="240.35" width="6.6" height="1.1" fill="#1a1a1a" />
<rect x="430.3" y="240.35" width="6.6" height="1.1" fill="#1a1a1a" />
<rect x="466.5" y="240.35" width="6.6" height="1.1" fill="#1a1a1a" />
<rect x="34.3" y="284.6" width="6.4" height="5.7" fill="#c41230" />
<text x="43.8" y="290.3" font-size="7.2" textLength="16.4" lengthAdjust="spacingAndGlyphs">NaCl</text>
<rect x="71.8" y="285.0" width="6.2" height="5.5" fill="#174b86" />
<text x="81.3" y="290.2" font-size="7.2" textLength="32.4" lengthAdjust="spacingAndGlyphs">CsA 5 µM</text>
<path d="M68.7,303.4 V375.6 H100.4" stroke="#231f20" stroke-width="0.9" fill="none" />
<path d="M65.60000000000001,303.5 H68.7" stroke="#231f20" stroke-width="0.9" fill="none" />
<text x="63.1" y="306.4" font-size="8.2" text-anchor="end" transform="matrix(0.97 0 0 1 1.893 0)">500</text>
<path d="M65.60000000000001,317.92 H68.7" stroke="#231f20" stroke-width="0.9" fill="none" />
<text x="63.1" y="320.8" font-size="8.2" text-anchor="end" transform="matrix(0.97 0 0 1 1.893 0)">400</text>
<path d="M65.60000000000001,332.34 H68.7" stroke="#231f20" stroke-width="0.9" fill="none" />
<text x="63.1" y="335.2" font-size="8.2" text-anchor="end" transform="matrix(0.97 0 0 1 1.893 0)">300</text>
<path d="M65.60000000000001,346.76 H68.7" stroke="#231f20" stroke-width="0.9" fill="none" />
<text x="63.1" y="349.7" font-size="8.2" text-anchor="end" transform="matrix(0.97 0 0 1 1.893 0)">200</text>
<path d="M65.60000000000001,361.18 H68.7" stroke="#231f20" stroke-width="0.9" fill="none" />
<text x="63.1" y="364.1" font-size="8.2" text-anchor="end" transform="matrix(0.97 0 0 1 1.893 0)">100</text>
<path d="M65.60000000000001,375.6 H68.7" stroke="#231f20" stroke-width="0.9" fill="none" />
<text x="63.1" y="378.5" font-size="8.2" text-anchor="end" transform="matrix(0.97 0 0 1 1.893 0)">0</text>
<rect x="73.2" y="310.8" width="8.8" height="64.80000000000001" fill="#c41230" />
<rect x="87.2" y="320.0" width="8.3" height="55.60000000000002" fill="#174b86" />
<path d="M77.6,375.6 V378.3 M91.4,375.6 V378.3" stroke="#231f20" stroke-width="0.9" fill="none" />
<path d="M77.6,307.9 V310.8 M75.2,307.9 H80.0" stroke="#222" stroke-width="0.9" fill="none" />
<path d="M91.4,316.4 V320.0 M89.2,316.4 H93.6" stroke="#222" stroke-width="0.9" fill="none" />
<text x="84.2" y="387.6" font-size="7.4" text-anchor="middle">HD_001</text>
<path d="M128.6,303.4 V375.6 H160.4" stroke="#231f20" stroke-width="0.9" fill="none" />
<path d="M125.5,303.3 H128.6" stroke="#231f20" stroke-width="0.9" fill="none" />
<text x="123.0" y="306.2" font-size="8.2" text-anchor="end" transform="matrix(0.97 0 0 1 3.690 0)">250</text>
<path d="M125.5,317.72 H128.6" stroke="#231f20" stroke-width="0.9" fill="none" />
<text x="123.0" y="320.6" font-size="8.2" text-anchor="end" transform="matrix(0.97 0 0 1 3.690 0)">200</text>
<path d="M125.5,332.14 H128.6" stroke="#231f20" stroke-width="0.9" fill="none" />
<text x="123.0" y="335.0" font-size="8.2" text-anchor="end" transform="matrix(0.97 0 0 1 3.690 0)">150</text>
<path d="M125.5,346.56 H128.6" stroke="#231f20" stroke-width="0.9" fill="none" />
<text x="123.0" y="349.5" font-size="8.2" text-anchor="end" transform="matrix(0.97 0 0 1 3.690 0)">100</text>
<path d="M125.5,360.98 H128.6" stroke="#231f20" stroke-width="0.9" fill="none" />
<text x="123.0" y="363.9" font-size="8.2" text-anchor="end" transform="matrix(0.97 0 0 1 3.690 0)">50</text>
<path d="M125.5,375.4 H128.6" stroke="#231f20" stroke-width="0.9" fill="none" />
<text x="123.0" y="378.3" font-size="8.2" text-anchor="end" transform="matrix(0.97 0 0 1 3.690 0)">0</text>
<rect x="133.9" y="320.3" width="8.0" height="55.30000000000001" fill="#c41230" />
<rect x="147.9" y="327.8" width="7.6" height="47.80000000000001" fill="#174b86" />
<path d="M137.9,375.6 V378.3 M151.7,375.6 V378.3" stroke="#231f20" stroke-width="0.9" fill="none" />
<path d="M137.9,318.4 V320.3 M135.5,318.4 H140.3" stroke="#222" stroke-width="0.9" fill="none" />
<path d="M151.7,327.3 V327.8 M149.5,327.3 H153.9" stroke="#222" stroke-width="0.9" fill="none" />
<text x="144.85" y="387.6" font-size="7.4" text-anchor="middle">HD_002</text>
<path d="M186.4,303.4 V375.6 H218.0" stroke="#231f20" stroke-width="0.9" fill="none" />
<path d="M183.3,303.3 H186.4" stroke="#231f20" stroke-width="0.9" fill="none" />
<text x="180.8" y="306.2" font-size="8.2" text-anchor="end" transform="matrix(0.97 0 0 1 5.424 0)">200</text>
<path d="M183.3,321.35 H186.4" stroke="#231f20" stroke-width="0.9" fill="none" />
<text x="180.8" y="324.2" font-size="8.2" text-anchor="end" transform="matrix(0.97 0 0 1 5.424 0)">150</text>
<path d="M183.3,339.40000000000003 H186.4" stroke="#231f20" stroke-width="0.9" fill="none" />
<text x="180.8" y="342.3" font-size="8.2" text-anchor="end" transform="matrix(0.97 0 0 1 5.424 0)">100</text>
<path d="M183.3,357.45000000000005 H186.4" stroke="#231f20" stroke-width="0.9" fill="none" />
<text x="180.8" y="360.4" font-size="8.2" text-anchor="end" transform="matrix(0.97 0 0 1 5.424 0)">50</text>
<path d="M183.3,375.5 H186.4" stroke="#231f20" stroke-width="0.9" fill="none" />
<text x="180.8" y="378.4" font-size="8.2" text-anchor="end" transform="matrix(0.97 0 0 1 5.424 0)">0</text>
<rect x="191.0" y="313.1" width="8.6" height="62.5" fill="#c41230" />
<rect x="205.1" y="324.0" width="8.0" height="51.60000000000002" fill="#174b86" />
<path d="M195.3,375.6 V378.3 M209.1,375.6 V378.3" stroke="#231f20" stroke-width="0.9" fill="none" />
<path d="M195.3,312.6 V313.1 M192.9,312.6 H197.7" stroke="#222" stroke-width="0.9" fill="none" />
<path d="M209.1,323.1 V324.0 M206.9,323.1 H211.3" stroke="#222" stroke-width="0.9" fill="none" />
<text x="202.25" y="387.6" font-size="7.4" text-anchor="middle">HD_003</text>
<text x="33.0" y="337.0" font-size="9.1" text-anchor="middle" textLength="70" lengthAdjust="spacingAndGlyphs" transform="rotate(-90 33.0 337.0)">Number of colonies/</text>
<text x="44.0" y="337.5" font-size="9.0" text-anchor="middle" textLength="41" lengthAdjust="spacingAndGlyphs" transform="rotate(-90 44.0 337.5)">1x 10<tspan font-size="5.8" dy="-3.2">5</tspan><tspan dy="3.2"> cells</tspan></text>
<rect x="317.5" y="284.3" width="3.5" height="3.5" fill="#c41230" />
<rect x="317.5" y="293.3" width="3.5" height="3.5" fill="#174b86" />
<text x="324.1" y="288.2" font-size="7.2" textLength="34.9" lengthAdjust="spacingAndGlyphs">NaCl 0.9%</text>
<text x="324.1" y="297.0" font-size="7.2" textLength="13.6" lengthAdjust="spacingAndGlyphs">CsA</text>
<path d="M315.2,308.3 V335.3 M315.2,342 V382.6 H360" stroke="#231f20" stroke-width="1.0" fill="none" />
<path d="M312.3,308.3 H315.1" stroke="#231f20" stroke-width="0.9" fill="none" />
<path d="M312.3,315.9 H315.1" stroke="#231f20" stroke-width="0.9" fill="none" />
<path d="M312.3,323.6 H315.1" stroke="#231f20" stroke-width="0.9" fill="none" />
<path d="M312.3,331.1 H315.1" stroke="#231f20" stroke-width="0.9" fill="none" />
<path d="M312.3,350.0 H315.1" stroke="#231f20" stroke-width="0.9" fill="none" />
<path d="M312.3,366.4 H315.1" stroke="#231f20" stroke-width="0.9" fill="none" />
<path d="M313.6,335.3 H317 M313.6,342 H317" stroke="#231f20" stroke-width="0.9" fill="none" />
<path d="M329.5,382.6 V385.3 M351.3,382.6 V385.8" stroke="#231f20" stroke-width="0.9" fill="none" />
<text x="309.2" y="311.3" font-size="8.1" text-anchor="end" transform="matrix(0.97 0 0 1 9.276 0)">3×10<tspan font-size="5.6" dy="-3.3">3</tspan></text>
<text x="309.2" y="326.6" font-size="8.1" text-anchor="end" transform="matrix(0.97 0 0 1 9.276 0)">2×10<tspan font-size="5.6" dy="-3.3">3</tspan></text>
<text x="309.2" y="353.0" font-size="8.1" text-anchor="end" transform="matrix(0.97 0 0 1 9.276 0)">4×10<tspan font-size="5.6" dy="-3.3">2</tspan></text>
<text x="309.2" y="369.4" font-size="8.1" text-anchor="end" transform="matrix(0.97 0 0 1 9.276 0)">2×10<tspan font-size="5.6" dy="-3.3">2</tspan></text>
<text x="309.3" y="384.9" font-size="8.1" text-anchor="end">0</text>
<path d="M329.6,374.2 L351.4,319.1 M329.6,382.6 L351.4,357.1 M329.6,382.6 L351.4,364.1 M329.6,382.6 L351.4,369.2" stroke="#111" stroke-width="1.35" fill="none" />
<rect x="328.15000000000003" y="372.75" width="2.9" height="2.9" fill="#174b86" />
<rect x="328.15000000000003" y="381.15000000000003" width="2.9" height="2.9" fill="#174b86" />
<rect x="349.95" y="317.65000000000003" width="2.9" height="2.9" fill="#c41230" />
<rect x="349.95" y="355.65000000000003" width="2.9" height="2.9" fill="#c41230" />
<rect x="349.95" y="362.65000000000003" width="2.9" height="2.9" fill="#c41230" />
<rect x="349.95" y="367.75" width="2.9" height="2.9" fill="#c41230" />
<text x="267.5" y="344.9" font-size="8.8" text-anchor="middle" textLength="78.5" lengthAdjust="spacingAndGlyphs" transform="rotate(-90 267.5 344.9)">hCD45+ hCD13+ cells/</text>
<text x="278.5" y="344.9" font-size="8.6" text-anchor="middle" textLength="51" lengthAdjust="spacingAndGlyphs" transform="rotate(-90 278.5 344.9)">1x10<tspan font-size="5.5" dy="-3">6</tspan><tspan dy="3"> BM cells</tspan></text>
<text x="433.8" y="293.8" font-size="7.5" text-anchor="middle" textLength="46" lengthAdjust="spacingAndGlyphs">NaCl-treated</text>
<circle cx="433.7" cy="309.6" r="12.8" fill="#c41230"/>
<text x="433.6" y="336.5" font-size="7.5" text-anchor="middle" textLength="42.6" lengthAdjust="spacingAndGlyphs">CsA-treated</text>
<circle cx="434.5" cy="351.9" r="12.6" fill="#165282"/>
<path d="M434.5,351.9 L421.9,351.9 A12.6,12.6 0 0 1 434.5,339.3 Z" fill="#c41230"/>
<circle cx="406.8" cy="372.1" r="2.3" fill="#c41230"/>
<circle cx="406.8" cy="382.5" r="2.3" fill="#165282"/>
<text x="412.7" y="374.9" font-size="7.5" textLength="41.1" lengthAdjust="spacingAndGlyphs">Engraftment</text>
<text x="412.7" y="385.1" font-size="7.5" textLength="53.2" lengthAdjust="spacingAndGlyphs">No engraftment</text>
<path d="M0.55,0 V396 M0,0.5 H520" stroke="#000" stroke-width="1.1" fill="none"/>
<path d="M519.5,0 V396 M0,395.5 H520" stroke="#000" stroke-width="1.05" fill="none"/>
</svg>
</body></html>
